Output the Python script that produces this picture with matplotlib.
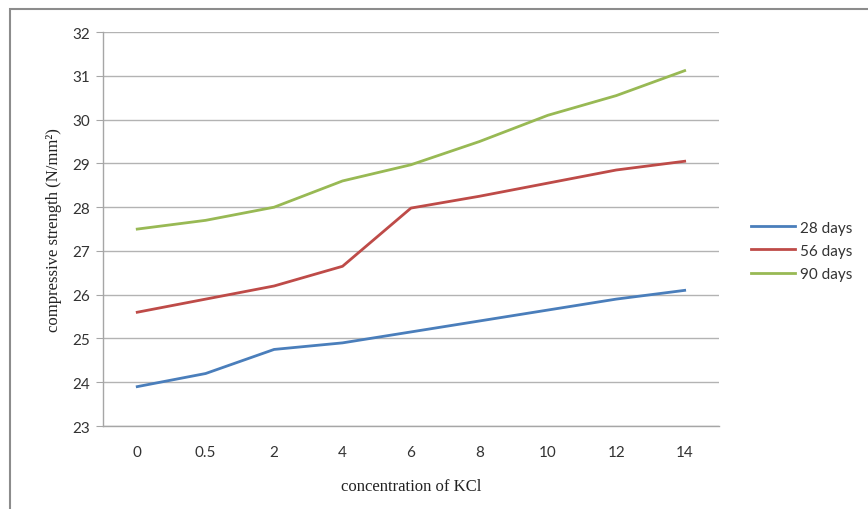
import numpy as np
import matplotlib
matplotlib.use('Agg')
import matplotlib.pyplot as plt
from matplotlib.patches import Rectangle

# KCl concentration (categorical axis) and compressive strength per curing age
concentration = ['0', '0.5', '2', '4', '6', '8', '10', '12', '14']
days_28 = [23.9, 24.2, 24.75, 24.9, 25.15, 25.4, 25.65, 25.9, 26.1]
days_56 = [25.6, 25.9, 26.2, 26.65, 27.98, 28.25, 28.55, 28.85, 29.05]
days_90 = [27.5, 27.7, 28.0, 28.6, 28.97, 29.5, 30.1, 30.55, 31.12]

series = [('28 days', days_28, '#4A7EBB'),
          ('56 days', days_56, '#BE4B48'),
          ('90 days', days_90, '#98B954')]

fig = plt.figure(figsize=(8.68, 5.1), dpi=100)
ax = fig.add_axes([0.1187, 0.1627, 0.7095, 0.7723])

x = np.arange(len(concentration))
for name, vals, col in series:
    ax.plot(x, vals, color=col, lw=2.0, label=name, solid_joinstyle='round')

ax.set_xlim(-0.5, len(concentration) - 0.5)
ax.set_ylim(23, 32)
ax.set_yticks(range(23, 33))
ax.set_xticks(x)
ax.set_xticklabels(concentration)
ax.grid(axis='y', color='#b3b3b3', lw=1.0)
ax.set_axisbelow(True)

for s in ['top', 'right']:
    ax.spines[s].set_visible(False)
for s in ['left', 'bottom']:
    ax.spines[s].set_color('#a6a6a6')
    ax.spines[s].set_linewidth(1.0)

ax.tick_params(axis='y', length=5, color='#a6a6a6', pad=4,
               labelsize=11, labelcolor='#333333')
ax.tick_params(axis='x', length=0, pad=14, labelsize=11, labelcolor='#333333')
for lab in ax.get_xticklabels() + ax.get_yticklabels():
    lab.set_family('Lato')

ax.set_xlabel('concentration of KCl', family='Liberation Serif',
              fontsize=12, labelpad=13, color='#222222')
ax.set_ylabel('compressive strength (N/mm²)', family='Liberation Serif',
              fontsize=12, labelpad=8, color='#222222')

leg = ax.legend(loc='center left', bbox_to_anchor=(1.03, 0.445), frameon=False,
                handlelength=2.9, handletextpad=0.3, labelspacing=0.6,
                prop={'family': 'Lato', 'size': 11})
for t in leg.get_texts():
    t.set_color('#333333')

# outer chart frame
fig.patches.append(Rectangle((10 / 868, -0.05), 1.2, 1 - 10 / 510 + 0.05,
                             transform=fig.transFigure, fill=False,
                             edgecolor='#8c8c8c', lw=1.5))

fig.savefig('out.png', dpi=100)
